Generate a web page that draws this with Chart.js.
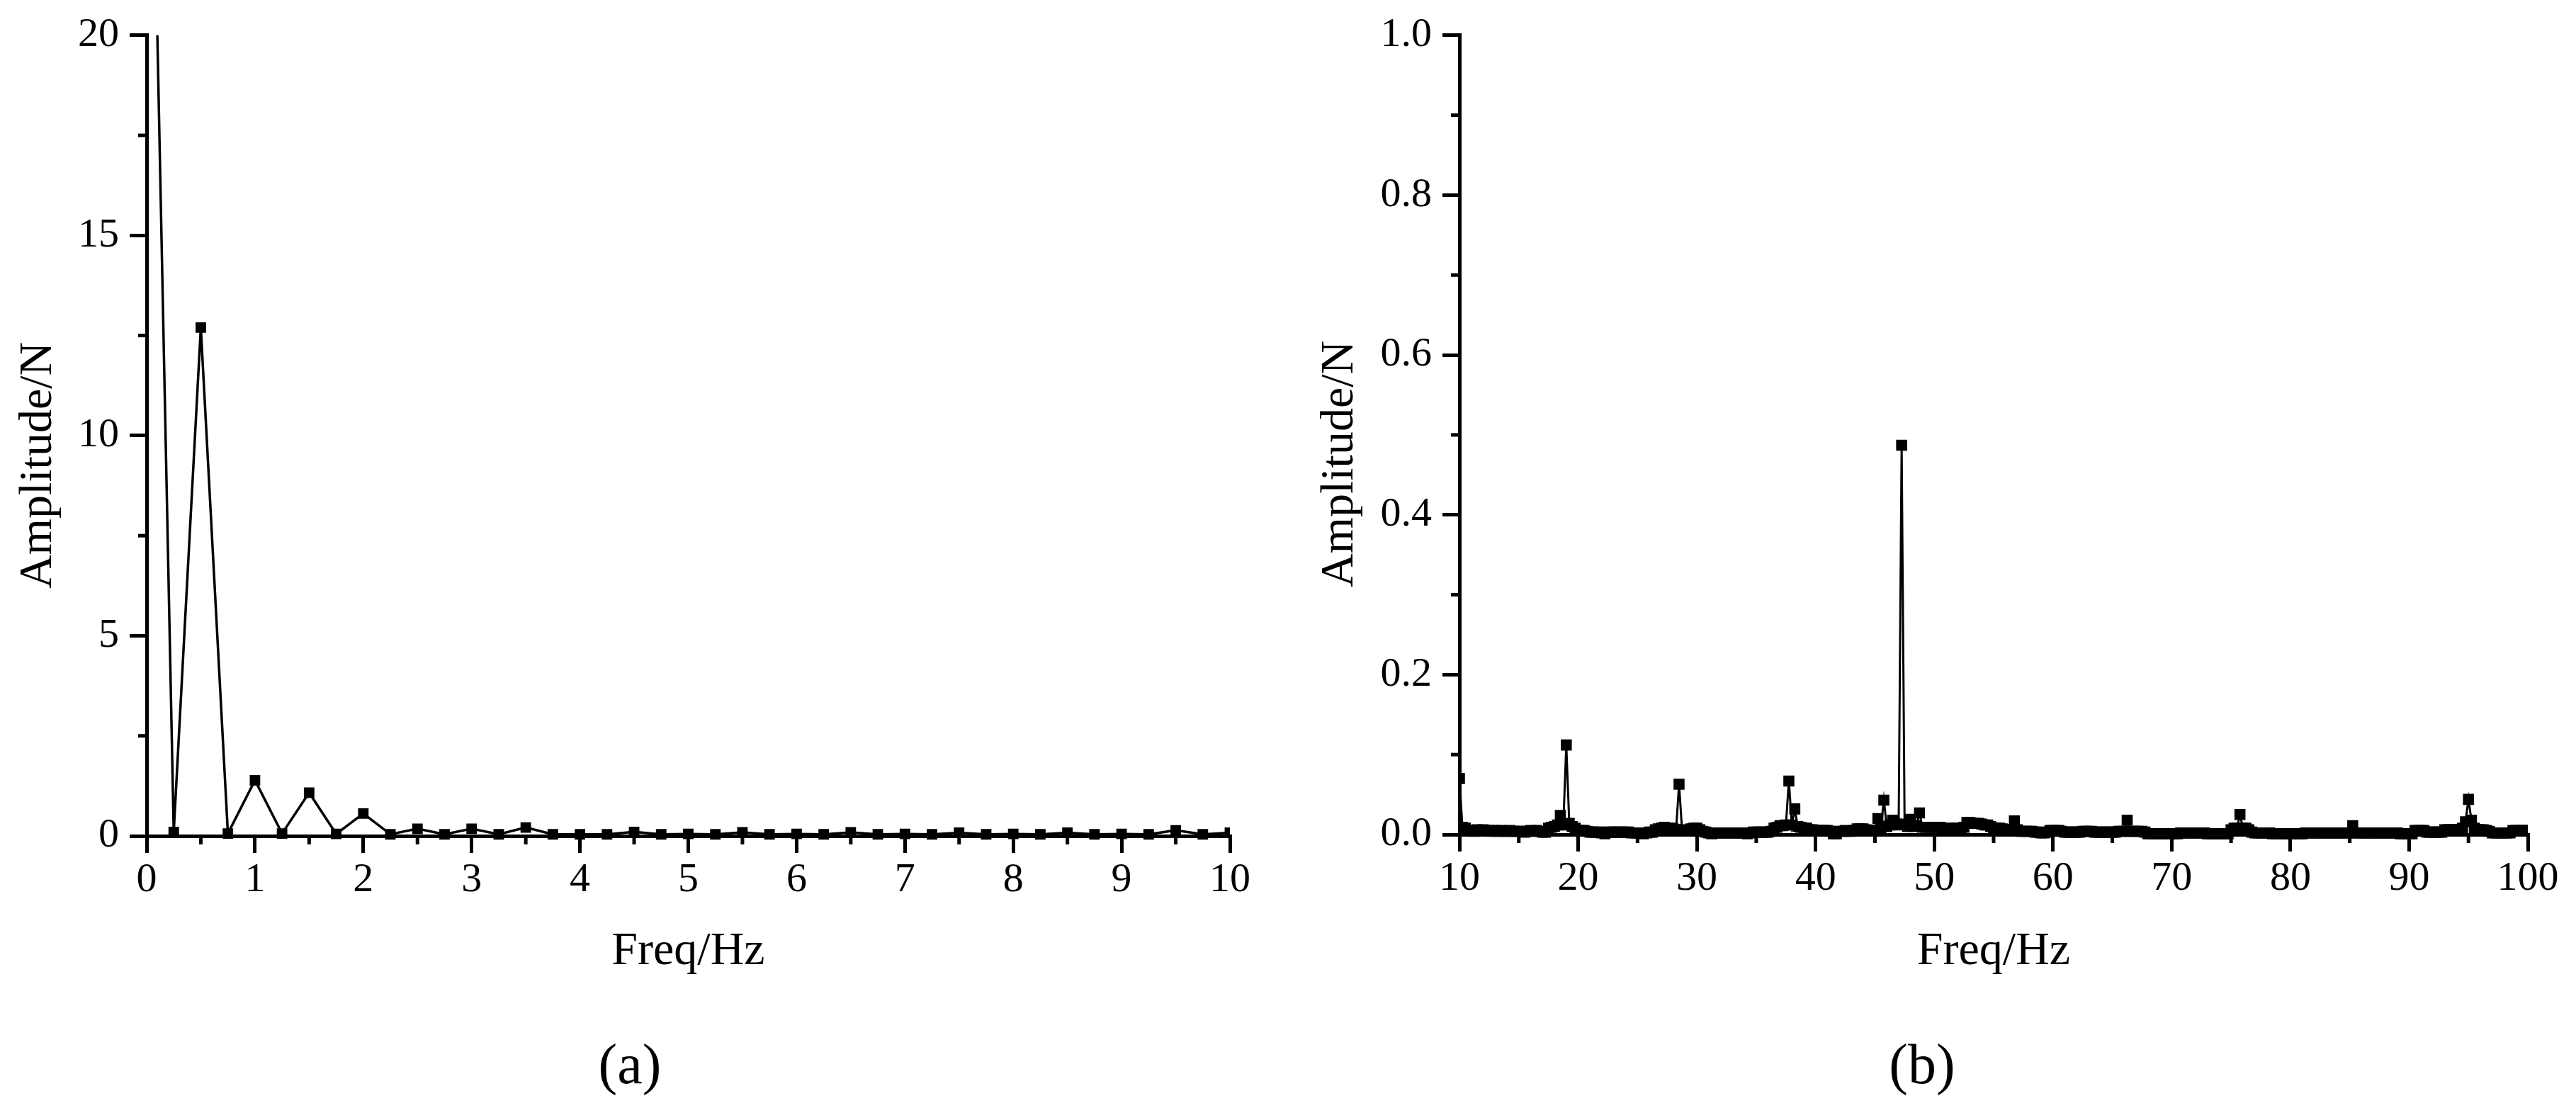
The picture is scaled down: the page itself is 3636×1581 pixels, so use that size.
<!DOCTYPE html>
<html>
<head>
<meta charset="utf-8">
<script src="https://cdn.jsdelivr.net/npm/chart.js@4.4.0/dist/chart.umd.min.js"></script>
<style>
  html, body { margin: 0; padding: 0; background: #ffffff; }
  #wrap { position: relative; width: 3636px; height: 1581px; background: #ffffff; overflow: hidden; }
  canvas { position: absolute; top: 0; }
  #chartA { left: 0; }
  #chartB { left: 1818px; }
</style>
</head>
<body>
<div id="wrap">
  <canvas id="chartA" width="1818" height="1581"></canvas>
  <canvas id="chartB" width="1818" height="1581"></canvas>
</div>
<script>
// ---------------- data: panel (a), 0-10 Hz ----------------
const freqA = [0, 0.25, 0.5, 0.75, 1, 1.25, 1.5, 1.75, 2, 2.25, 2.5, 2.75, 3, 3.25, 3.5, 3.75,
  4, 4.25, 4.5, 4.75, 5, 5.25, 5.5, 5.75, 6, 6.25, 6.5, 6.75, 7, 7.25, 7.5, 7.75,
  8, 8.25, 8.5, 8.75, 9, 9.25, 9.5, 9.75, 10];
const ampA = [33, 0.10, 12.7, 0.06, 1.39, 0.06, 1.08, 0.05, 0.56, 0.04, 0.18, 0.04, 0.18, 0.04, 0.21, 0.04,
  0.04, 0.04, 0.10, 0.04, 0.05, 0.04, 0.09, 0.04, 0.05, 0.04, 0.09, 0.04, 0.05, 0.04, 0.08, 0.04,
  0.05, 0.04, 0.08, 0.04, 0.05, 0.04, 0.14, 0.04, 0.08];
const xTicksA = [0, 1, 2, 3, 4, 5, 6, 7, 8, 9, 10];
const yTicksA = [0, 5, 10, 15, 20];
const xMinorA = [0.5, 1.5, 2.5, 3.5, 4.5, 5.5, 6.5, 7.5, 8.5, 9.5];
const yMinorA = [2.5, 7.5, 12.5, 17.5];

// ---------------- data: panel (b), 10-100 Hz ----------------
const freqB = [
  10, 10.25, 10.5, 10.75, 11, 11.25, 11.5, 11.75, 12, 12.25, 12.5, 12.75, 13, 13.25, 13.5, 13.75,
  14, 14.25, 14.5, 14.75, 15, 15.25, 15.5, 15.75, 16, 16.25, 16.5, 16.75, 17, 17.25, 17.5, 17.75,
  18, 18.25, 18.5, 18.75, 19, 19.25, 19.5, 19.75, 20, 20.25, 20.5, 20.75, 21, 21.25, 21.5, 21.75,
  22, 22.25, 22.5, 22.75, 23, 23.25, 23.5, 23.75, 24, 24.25, 24.5, 24.75, 25, 25.25, 25.5, 25.75,
  26, 26.25, 26.5, 26.75, 27, 27.25, 27.5, 27.75, 28, 28.25, 28.5, 28.75, 29, 29.25, 29.5, 29.75,
  30, 30.25, 30.5, 30.75, 31, 31.25, 31.5, 31.75, 32, 32.25, 32.5, 32.75, 33, 33.25, 33.5, 33.75,
  34, 34.25, 34.5, 34.75, 35, 35.25, 35.5, 35.75, 36, 36.25, 36.5, 36.75, 37, 37.25, 37.5, 37.75,
  38, 38.25, 38.5, 38.75, 39, 39.25, 39.5, 39.75, 40, 40.25, 40.5, 40.75, 41, 41.25, 41.5, 41.75,
  42, 42.25, 42.5, 42.75, 43, 43.25, 43.5, 43.75, 44, 44.25, 44.5, 44.75, 45, 45.25, 45.5, 45.75,
  46, 46.25, 46.5, 46.75, 47, 47.25, 47.5, 47.75, 48, 48.25, 48.5, 48.75, 49, 49.25, 49.5, 49.75,
  50, 50.25, 50.5, 50.75, 51, 51.25, 51.5, 51.75, 52, 52.25, 52.5, 52.75, 53, 53.25, 53.5, 53.75,
  54, 54.25, 54.5, 54.75, 55, 55.25, 55.5, 55.75, 56, 56.25, 56.5, 56.75, 57, 57.25, 57.5, 57.75,
  58, 58.25, 58.5, 58.75, 59, 59.25, 59.5, 59.75, 60, 60.25, 60.5, 60.75, 61, 61.25, 61.5, 61.75,
  62, 62.25, 62.5, 62.75, 63, 63.25, 63.5, 63.75, 64, 64.25, 64.5, 64.75, 65, 65.25, 65.5, 65.75,
  66, 66.25, 66.5, 66.75, 67, 67.25, 67.5, 67.75, 68, 68.25, 68.5, 68.75, 69, 69.25, 69.5, 69.75,
  70, 70.25, 70.5, 70.75, 71, 71.25, 71.5, 71.75, 72, 72.25, 72.5, 72.75, 73, 73.25, 73.5, 73.75,
  74, 74.25, 74.5, 74.75, 75, 75.25, 75.5, 75.75, 76, 76.25, 76.5, 76.75, 77, 77.25, 77.5, 77.75,
  78, 78.25, 78.5, 78.75, 79, 79.25, 79.5, 79.75, 80, 80.25, 80.5, 80.75, 81, 81.25, 81.5, 81.75,
  82, 82.25, 82.5, 82.75, 83, 83.25, 83.5, 83.75, 84, 84.25, 84.5, 84.75, 85, 85.25, 85.5, 85.75,
  86, 86.25, 86.5, 86.75, 87, 87.25, 87.5, 87.75, 88, 88.25, 88.5, 88.75, 89, 89.25, 89.5, 89.75,
  90, 90.25, 90.5, 90.75, 91, 91.25, 91.5, 91.75, 92, 92.25, 92.5, 92.75, 93, 93.25, 93.5, 93.75,
  94, 94.25, 94.5, 94.75, 95, 95.25, 95.5, 95.75, 96, 96.25, 96.5, 96.75, 97, 97.25, 97.5, 97.75,
  98, 98.25, 98.5, 98.75, 99, 99.25, 99.5, 99.75, 100];
const ampB = [
  0.070, 0.009, 0.008, 0.005,  0.005, 0.004, 0.006, 0.005,  0.006, 0.005, 0.005, 0.004,  0.005, 0.004, 0.005, 0.004,
  0.004, 0.005, 0.004, 0.004,  0.004, 0.004, 0.003, 0.004,  0.005, 0.004, 0.005, 0.004,  0.003, 0.003, 0.008, 0.009,
  0.010, 0.012, 0.024, 0.012,  0.112, 0.014, 0.010, 0.008,  0.005, 0.005, 0.005, 0.004,  0.003, 0.003, 0.003, 0.003,
  0.002, 0.001, 0.003, 0.003,  0.003, 0.003, 0.003, 0.003,  0.003, 0.003, 0.002, 0.002,  0.002, 0.002, 0.001, 0.002,
  0.003, 0.003, 0.006, 0.007,  0.008, 0.009, 0.008, 0.008,  0.007, 0.006, 0.063, 0.006,  0.005, 0.005, 0.007, 0.008,
  0.008, 0.006, 0.004, 0.003,  0.002, 0.001, 0.002, 0.002,  0.002, 0.002, 0.002, 0.002,  0.002, 0.002, 0.002, 0.002,
  0.002, 0.001, 0.002, 0.003,  0.003, 0.003, 0.003, 0.003,  0.003, 0.004, 0.008, 0.009,  0.011, 0.011, 0.012, 0.067,
  0.012, 0.032, 0.010, 0.009,  0.008, 0.008, 0.006, 0.006,  0.005, 0.005, 0.005, 0.005,  0.005, 0.004, 0.001, 0.001,
  0.004, 0.004, 0.005, 0.004,  0.004, 0.005, 0.007, 0.007,  0.007, 0.006, 0.005, 0.005,  0.005, 0.020, 0.008, 0.043,
  0.010, 0.012, 0.018, 0.013,  0.012, 0.487, 0.013, 0.010,  0.019, 0.010, 0.011, 0.027,  0.009, 0.009, 0.009, 0.009,
  0.009, 0.009, 0.009, 0.008,  0.006, 0.006, 0.008, 0.008,  0.008, 0.008, 0.009, 0.015,  0.015, 0.014, 0.014, 0.014,
  0.013, 0.012, 0.012, 0.010,  0.008, 0.008, 0.008, 0.007,  0.006, 0.006, 0.006, 0.017,  0.006, 0.004, 0.004, 0.004,
  0.004, 0.004, 0.003, 0.003,  0.002, 0.002, 0.003, 0.005,  0.005, 0.005, 0.005, 0.004,  0.003, 0.003, 0.003, 0.003,
  0.003, 0.003, 0.004, 0.004,  0.004, 0.004, 0.003, 0.003,  0.003, 0.003, 0.003, 0.003,  0.003, 0.003, 0.004, 0.004,
  0.004, 0.018, 0.004, 0.004,  0.004, 0.004, 0.004, 0.003,  0.001, 0.001, 0.001, 0.001,  0.001, 0.001, 0.001, 0.001,
  0.001, 0.001, 0.001, 0.002,  0.002, 0.002, 0.002, 0.002,  0.002, 0.002, 0.002, 0.002,  0.001, 0.001, 0.001, 0.001,
  0.001, 0.001, 0.001, 0.001,  0.006, 0.008, 0.008, 0.025,  0.008, 0.008, 0.006, 0.003,  0.002, 0.002, 0.002, 0.002,
  0.002, 0.002, 0.001, 0.001,  0.001, 0.001, 0.001, 0.001,  0.001, 0.001, 0.001, 0.001,  0.001, 0.002, 0.002, 0.002,
  0.002, 0.002, 0.002, 0.002,  0.002, 0.002, 0.002, 0.002,  0.002, 0.002, 0.002, 0.002,  0.002, 0.011, 0.002, 0.002,
  0.002, 0.002, 0.002, 0.002,  0.002, 0.002, 0.002, 0.002,  0.002, 0.002, 0.002, 0.002,  0.002, 0.001, 0.001, 0.001,
  0.001, 0.001, 0.005, 0.005,  0.005, 0.005, 0.003, 0.003,  0.003, 0.003, 0.003, 0.003,  0.006, 0.006, 0.006, 0.006,
  0.006, 0.006, 0.008, 0.016,  0.044, 0.018, 0.008, 0.006,  0.006, 0.006, 0.005, 0.004,  0.002, 0.002, 0.002, 0.002,
  0.002, 0.002, 0.002, 0.005,  0.005, 0.005, 0.005, 0.005,  0.005];
const xTicksB = [10, 20, 30, 40, 50, 60, 70, 80, 90, 100];
const yTicksB = [0, 0.2, 0.4, 0.6, 0.8, 1.0];
const xMinorB = [15, 25, 35, 45, 55, 65, 75, 85, 95];
const yMinorB = [0.1, 0.3, 0.5, 0.7, 0.9];

// ---------------- rendering ----------------
const SERIF = "'Liberation Serif', 'Times New Roman', serif";
Chart.defaults.color = '#000';
Chart.defaults.font.family = SERIF;

const minorTicksPlugin = {
  id: 'minorTicks',
  afterDraw(chart, args, opts) {
    const ctx = chart.ctx, xs = chart.scales.x, ys = chart.scales.y;
    ctx.save();
    ctx.strokeStyle = '#000';
    ctx.lineWidth = 5;
    for (const v of opts.xs) {
      const px = xs.getPixelForValue(v);
      ctx.beginPath(); ctx.moveTo(px, xs.top); ctx.lineTo(px, xs.top + opts.len); ctx.stroke();
    }
    for (const v of opts.ys) {
      const py = ys.getPixelForValue(v);
      ctx.beginPath(); ctx.moveTo(ys.right, py); ctx.lineTo(ys.right - opts.len, py); ctx.stroke();
    }
    ctx.restore();
  }
};

const yTitleShiftPlugin = {
  id: 'yTitleShift',
  beforeDraw(chart, args, opts) {
    const s = chart.scales.y;
    if (s && !s.__shifted) {
      const orig = s.drawTitle;
      s.drawTitle = function () {
        const c = this.ctx;
        c.save(); c.translate(0, opts.dy); orig.call(this); c.restore();
      };
      s.__shifted = true;
    }
  }
};

function buildChart(id, p) {
  const points = p.freq.map((f, i) => ({ x: f, y: p.amp[i] }));
  return new Chart(document.getElementById(id), {
    type: 'line',
    data: {
      datasets: [{
        data: points,
        borderColor: '#000',
        borderWidth: p.lineWidth,
        tension: 0,
        pointStyle: 'rect',
        pointRadius: p.markerR,
        pointHoverRadius: p.markerR,
        pointBackgroundColor: '#000',
        pointBorderWidth: 0,
        clip: { left: 0, top: 0, right: 0, bottom: 10 }
      }]
    },
    options: {
      responsive: false,
      animation: false,
      devicePixelRatio: 1,
      events: [],
      layout: { padding: { left: p.padL, right: p.padR, top: p.padT, bottom: p.padB } },
      plugins: {
        legend: { display: false },
        tooltip: { enabled: false },
        title: {
          display: true, position: 'bottom', text: p.panel, color: '#000',
          font: { family: SERIF, size: 80, weight: 'normal', lineHeight: 1 },
          padding: { top: 88, bottom: 0 }
        },
        minorTicks: { xs: p.xMinor, ys: p.yMinor, len: 12 },
        yTitleShift: { dy: p.yTitleDy }
      },
      scales: {
        x: {
          type: 'linear', position: 'bottom', min: p.xMin, max: p.xMax,
          afterFit: (s) => { s.height = p.xAxisH; },
          afterBuildTicks: (s) => { s.ticks = p.xTicks.map(v => ({ value: v })); },
          ticks: {
            autoSkip: false, maxRotation: 0, minRotation: 0, padding: 4, color: '#000',
            font: { family: SERIF, size: 58 },
            callback: (v) => String(v)
          },
          grid: { display: true, drawOnChartArea: false, drawTicks: true, tickLength: 24, tickWidth: 5, tickColor: '#000', lineWidth: 5, color: '#000' },
          border: { display: true, color: '#000', width: 5 },
          title: {
            display: true, text: 'Freq/Hz', color: '#000',
            font: { family: SERIF, size: 66, weight: 'normal', lineHeight: 1 },
            padding: { top: 0, bottom: 3 }
          }
        },
        y: {
          type: 'linear', position: 'left', min: p.yMin, max: p.yMax,
          afterFit: (s) => { s.width = p.yAxisW; },
          afterBuildTicks: (s) => { s.ticks = p.yTicks.map(v => ({ value: v })); },
          ticks: {
            autoSkip: false, padding: 15, color: '#000',
            font: { family: SERIF, size: 58 },
            callback: p.yFmt
          },
          grid: { display: true, drawOnChartArea: false, drawTicks: true, tickLength: 24, tickWidth: 5, tickColor: '#000', lineWidth: 5, color: '#000' },
          border: { display: true, color: '#000', width: 5 },
          title: {
            display: true, text: 'Amplitude/N', color: '#000',
            font: { family: SERIF, size: 66, weight: 'normal', lineHeight: 1 },
            padding: { top: p.yTitlePadTop, bottom: 0 }
          }
        }
      }
    },
    plugins: [minorTicksPlugin, yTitleShiftPlugin]
  });
}

buildChart('chartA', {
  freq: freqA, amp: ampA, panel: '(a)', lineWidth: 3.5, markerR: 10.5,
  xMin: 0, xMax: 10, yMin: 0, yMax: 20,
  xTicks: xTicksA, yTicks: yTicksA, xMinor: xMinorA, yMinor: yMinorA,
  yFmt: (v) => String(v),
  padL: 42, padR: 82, padT: 44, padB: 33,
  yAxisW: 165, xAxisH: 200, yTitlePadTop: -20, yTitleDy: 42
});

buildChart('chartB', {
  freq: freqB, amp: ampB, panel: '(b)', lineWidth: 3, markerR: 11,
  xMin: 10, xMax: 100, yMin: 0, yMax: 1,
  xTicks: xTicksB, yTicks: yTicksB, xMinor: xMinorB, yMinor: yMinorB,
  yFmt: (v) => Number(v).toFixed(1),
  padL: 40, padR: 68, padT: 48, padB: 33,
  yAxisW: 202, xAxisH: 202, yTitlePadTop: 1, yTitleDy: 41
});
</script>
</body>
</html>
